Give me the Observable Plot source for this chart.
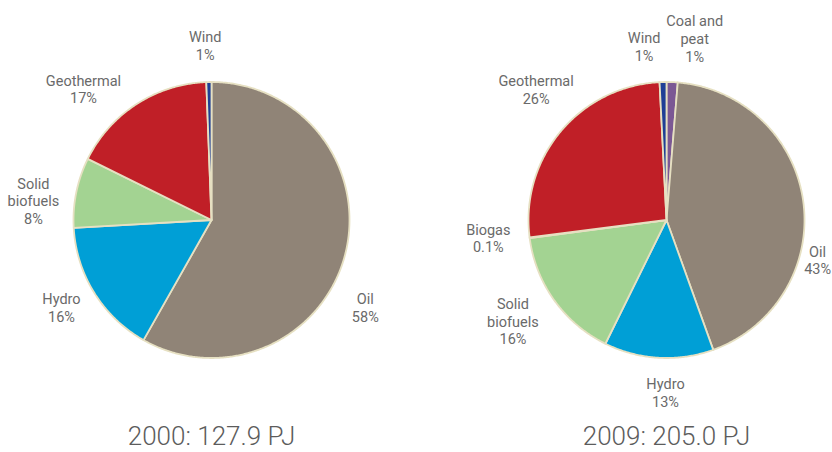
<!DOCTYPE html>
<html>
<head>
<meta charset="utf-8">
<script src="https://cdn.jsdelivr.net/npm/d3@7"></script>
<script src="https://cdn.jsdelivr.net/npm/@observablehq/plot@0.6"></script>
<style>
  html, body { margin: 0; padding: 0; background: #fff; }
  #chart svg { display: block; }
</style>
</head>
<body>
<div id="chart"></div>
<script>
// ---- data (shares, clockwise from 12 o'clock) ----
const years = ["2000", "2009"];
const totals = ["127.9", "205.0"];

const sources2000 = ["Oil", "Hydro", "Solid biofuels", "Geothermal", "Wind"];
const values2000  = [58.2, 15.9, 8.2, 17.1, 0.6];
const pct2000     = ["58%", "16%", "8%", "17%", "1%"];

const sources2009 = ["Coal and peat", "Oil", "Hydro", "Solid biofuels", "Biogas", "Geothermal", "Wind"];
const values2009  = [1.3, 43.2, 12.8, 15.6, 0.1, 26.2, 0.8];
const pct2009     = ["1%", "43%", "13%", "16%", "0.1%", "26%", "1%"];

const displayNames = {"Solid biofuels": "Solid\nbiofuels", "Coal and peat": "Coal and\npeat"};

// ---- style ----
const colorDomain = ["Oil", "Hydro", "Solid biofuels", "Geothermal", "Wind", "Coal and peat", "Biogas"];
const colorRange  = ["#908477", "#009fd6", "#a3d392", "#c01f27", "#1f3f96", "#7b5894", "#e6df9c"];
const R_PX = 138;          // pie radius in pixels
const LABEL_R = 1.28;      // label radius (in pie radii)
// label nudges in pixels [dx, dy]
const nudges = {
  "2000|Oil": [-17, 42], "2000|Hydro": [0, -6], "2000|Solid biofuels": [-5, 16],
  "2000|Geothermal": [-32, 17], "2000|Wind": [-3, 2],
  "2009|Coal and peat": [21, -5], "2009|Oil": [-24, 63], "2009|Hydro": [9, -4],
  "2009|Solid biofuels": [-10, -2], "2009|Biogas": [-3, -5], "2009|Geothermal": [5, -17],
  "2009|Wind": [-18, 3]
};

// ---- build tables ----
const series = [
  {year: years[0], total: totals[0], names: sources2000, values: values2000, pct: pct2000},
  {year: years[1], total: totals[1], names: sources2009, values: values2009, pct: pct2009}
];

const pie = d3.pie().sort(null).value(d => d.value);
const slicePoints = [];
const labelRows = [];
for (const s of series) {
  const rows = s.names.map((n, i) => ({name: n, value: s.values[i], pct: s.pct[i]}));
  for (const a of pie(rows)) {
    const key = s.year + "|" + a.data.name;
    const n = Math.max(2, Math.ceil((a.endAngle - a.startAngle) / (Math.PI / 360)));
    slicePoints.push({year: s.year, key, name: a.data.name, x: 0, y: 0});
    for (let k = 0; k <= n; k++) {
      const t = a.startAngle + (a.endAngle - a.startAngle) * k / n;
      slicePoints.push({year: s.year, key, name: a.data.name, x: Math.sin(t), y: Math.cos(t)});
    }
    slicePoints.push({year: s.year, key, name: a.data.name, x: 0, y: 0});
    const mid = (a.startAngle + a.endAngle) / 2;
    const [nx, ny] = nudges[key] || [0, 0];
    labelRows.push({
      year: s.year,
      x: LABEL_R * Math.sin(mid) + nx / R_PX,
      y: LABEL_R * Math.cos(mid) - ny / R_PX,
      text: (displayNames[a.data.name] || a.data.name) + "\n" + a.data.pct
    });
  }
}
const titleRows = series.map(s => ({year: s.year, text: `${s.year}: ${s.total} PJ`}));

// ---- layout ----
const width = 832, height = 452;
const facetW = 300, centerL = 211, centerR = 666;
const marginLeft = centerL - facetW / 2;
const step = centerR - centerL;
const marginRight = width - marginLeft - step - facetW;
const cy = 219.5;
const yHalf = 1.5;
const marginTop = cy - yHalf * R_PX;
const marginBottom = height - (cy + yHalf * R_PX);
const xHalf = (facetW / 2) / R_PX;

const chart = Plot.plot({
  width, height,
  marginLeft, marginRight, marginTop, marginBottom,
  style: {fontFamily: "Roboto, 'Liberation Sans', sans-serif", background: "#fff"},
  x: {domain: [-xHalf, xHalf], axis: null},
  y: {domain: [-yHalf, yHalf], axis: null},
  fx: {domain: years, paddingInner: (step - facetW) / step, paddingOuter: 0, round: false, axis: null},
  color: {domain: colorDomain, range: colorRange},
  marks: [
    Plot.line(slicePoints, {
      fx: "year", x: "x", y: "y", z: "key",
      fill: "name", stroke: "#e6e0c2", strokeWidth: 1.8, strokeLinejoin: "round",
      curve: "linear"
    }),
    Plot.text(labelRows, {
      fx: "year", x: "x", y: "y", text: "text",
      fontSize: 14.5, lineHeight: 1.22, fill: "#6a6a6a", textAnchor: "middle", lineAnchor: "middle"
    }),
    Plot.text(titleRows, {
      fx: "year", text: "text", frameAnchor: "bottom", lineAnchor: "bottom",
      dy: 444 - (cy + yHalf * R_PX), fontSize: 26, fontWeight: 300, fill: "#5c5c5c"
    })
  ]
});
document.getElementById("chart").appendChild(chart);
</script>
</body>
</html>
